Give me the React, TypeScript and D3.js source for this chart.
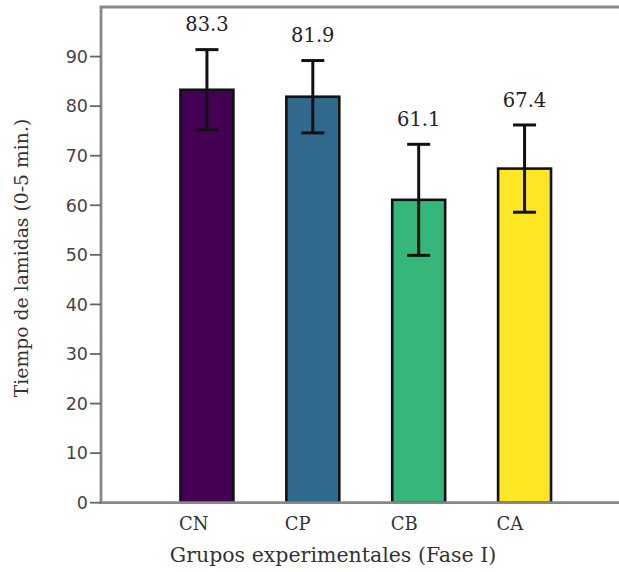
import React from "react";
import * as d3 from "d3";

const categories = ["CN", "CP", "CB", "CA"];
const means = [83.3, 81.9, 61.1, 67.4];
const errors = [8.1, 7.3, 11.2, 8.8];
const colors = ["#440154", "#31688e", "#35b779", "#fde725"];
const yTicks = [0, 10, 20, 30, 40, 50, 60, 70, 80, 90];

const W = 619;
const H = 572;
const left = 101;
const top = 7;
const bottom = 502.7;
const right = 619;

export default function App() {
  const y = d3.scaleLinear().domain([0, 100]).range([bottom, top]);
  const x = d3
    .scaleBand<string>()
    .domain(categories)
    .range([154, 577.5])
    .paddingInner(0.5)
    .paddingOuter(0.25);
  const bw = x.bandwidth();
  const capHalf = 11.5;

  return (
    <svg
      width={W}
      height={H}
      style={{ position: "absolute", left: 0, top: 0, background: "#fff" }}
    >
      {/* bars */}
      {categories.map((c, i) => (
        <rect
          key={c}
          x={x(c)!}
          y={y(means[i])}
          width={bw}
          height={y(0) - y(means[i])}
          fill={colors[i]}
          stroke="#111"
          strokeWidth={2.6}
        />
      ))}
      {/* error bars */}
      {categories.map((c, i) => {
        const cx = x(c)! + bw / 2;
        const lo = y(means[i] - errors[i]);
        const hi = y(means[i] + errors[i]);
        return (
          <g key={c + "e"} stroke="#111" strokeWidth={3}>
            <line x1={cx} x2={cx} y1={lo} y2={hi} />
            <line x1={cx - capHalf} x2={cx + capHalf} y1={lo} y2={lo} />
            <line x1={cx - capHalf} x2={cx + capHalf} y1={hi} y2={hi} />
          </g>
        );
      })}
      {/* value labels */}
      {categories.map((c, i) => (
        <text
          key={c + "v"}
          x={x(c)! + bw / 2}
          y={y(means[i] + errors[i] + 3.7)}
          textAnchor="middle"
          fontFamily="DejaVu Serif"
          fontSize={19.5}
          fill="#222"
        >
          {means[i].toFixed(1)}
        </text>
      ))}
      {/* axes frame */}
      <line x1={left} x2={left} y1={top} y2={bottom + 1} stroke="#888" strokeWidth={2.8} />
      <line x1={left - 1.4} x2={right} y1={top} y2={top} stroke="#888" strokeWidth={3} />
      <line x1={left - 1.4} x2={right} y1={bottom} y2={bottom} stroke="#888" strokeWidth={2.8} />
      {/* y ticks */}
      {yTicks.map((t) => (
        <g key={t}>
          <line x1={left - 11} x2={left} y1={y(t)} y2={y(t)} stroke="#666" strokeWidth={1.8} />
          <text
            x={left - 13}
            y={y(t)}
            dy="0.36em"
            textAnchor="end"
            fontFamily="DejaVu Sans"
            fontSize={17.5}
            fill="#444"
          >
            {t}
          </text>
        </g>
      ))}
      {/* x category labels */}
      {categories.map((c) => (
        <text
          key={c + "x"}
          x={x(c)! - 1.5}
          y={530}
          textAnchor="start"
          fontFamily="DejaVu Serif"
          fontSize={18}
          fill="#333"
        >
          {c}
        </text>
      ))}
      {/* axis titles */}
      <text
        x={333}
        y={562}
        textAnchor="middle"
        fontFamily="DejaVu Serif"
        fontSize={20.5}
        fill="#333"
      >
        Grupos experimentales (Fase I)
      </text>
      <text
        transform={`translate(28, 258) rotate(-90)`}
        textAnchor="middle"
        fontFamily="DejaVu Serif"
        fontSize={18.8}
        fill="#333"
      >
        Tiempo de lamidas (0-5 min.)
      </text>
    </svg>
  );
}
